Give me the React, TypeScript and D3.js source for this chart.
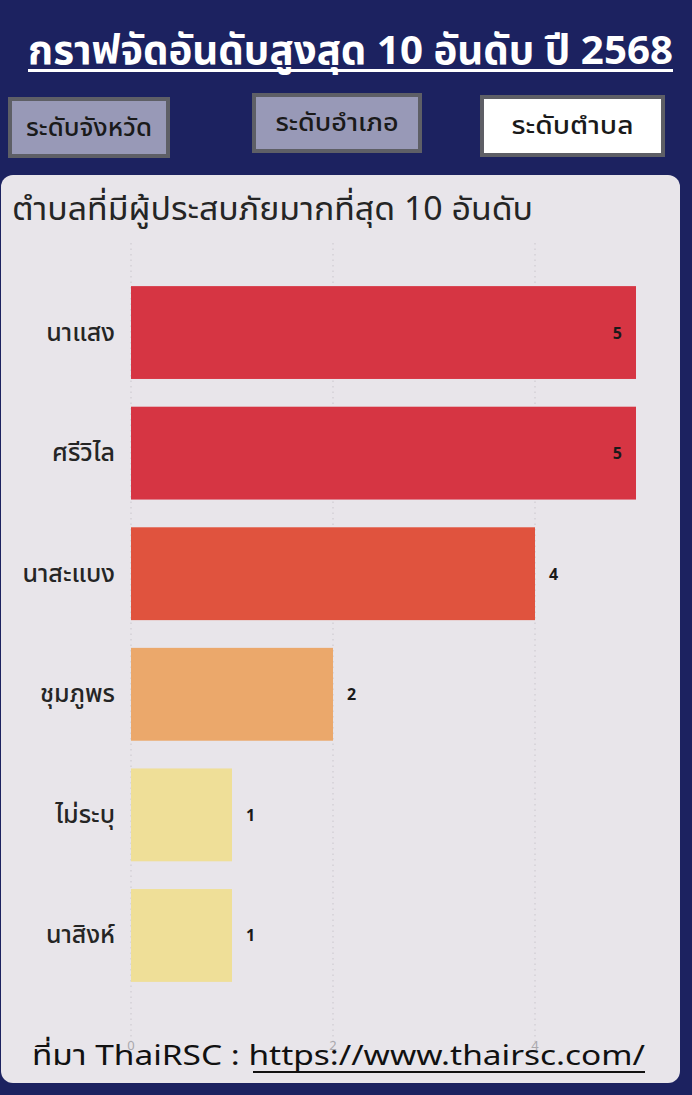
import React from "react";
import * as d3 from "d3";

const categories = ["นาแสง", "ศรีวิไล", "นาสะแบง", "ชุมภูพร", "ไม่ระบุ", "นาสิงห์"];
const values = [5, 5, 4, 2, 1, 1];
const colors = ["#d63543", "#d63543", "#e0533e", "#eba86b", "#efdf98", "#efdf98"];
const xTicks = [0, 2, 4];
const buttons = ["ระดับจังหวัด", "ระดับอำเภอ", "ระดับตำบล"];

const W = 692;
const H = 1095;
const FONT = "'Noto Sans Thai', 'Noto Sans', Tahoma, sans-serif";

export default function App() {
  const x = d3.scaleLinear().domain([0, 5]).range([131, 636]);
  const y = d3.scaleBand<string>().domain(categories).range([262, 1006]).paddingInner(0.23).paddingOuter(0.2);

  const btns = [
    { x: 8, y: 97, w: 162, h: 61, fill: "#9899b7", tw: 126 },
    { x: 252, y: 93, w: 170, h: 60, fill: "#9899b7", tw: 123 },
    { x: 480, y: 95, w: 185, h: 62, fill: "#ffffff", tw: 122 },
  ];

  return (
    <svg width={W} height={H} style={{ position: "absolute", left: 0, top: 0, display: "block" }} fontFamily={FONT}>
      <rect x={0} y={0} width={W} height={H} fill="#1c2260" />
      {/* title */}
      <text x={28} y={64} fill="#ffffff" fontSize={40} fontWeight="bold" textLength={645} lengthAdjust="spacingAndGlyphs">
        กราฟจัดอันดับสูงสุด 10 อันดับ ปี 2568
      </text>
      <rect x={28} y={69} width={645} height={3} fill="#ffffff" />
      {/* buttons */}
      {btns.map((b, i) => (
        <g key={i}>
          <rect x={b.x + 2} y={b.y + 2} width={b.w - 4} height={b.h - 4} fill={b.fill} stroke="#5e5f66" strokeWidth={4} />
          <text
            x={b.x + (b.w - b.tw) / 2}
            y={b.y + b.h / 2 + 8}
            fontSize={24}
            fontWeight={500}
            fill="#1a1a1a"
            textLength={b.tw}
            lengthAdjust="spacingAndGlyphs"
          >
            {buttons[i]}
          </text>
        </g>
      ))}
      {/* panel */}
      <rect x={1} y={175} width={679} height={908} rx={12} fill="#e8e5ea" />
      <text x={12} y={220} fontSize={32} fill="#252525" textLength={521} lengthAdjust="spacingAndGlyphs">
        ตำบลที่มีผู้ประสบภัยมากที่สุด 10 อันดับ
      </text>
      {/* gridlines */}
      {xTicks.map((t) => (
        <g key={t}>
          <line x1={x(t)} x2={x(t)} y1={243} y2={1042} stroke="#c9c6cc" strokeWidth={1} strokeDasharray="1.5,4" />
          <text x={x(t)} y={1050} textAnchor="middle" fontSize={13} fill="#aaa8ad">
            {t}
          </text>
        </g>
      ))}
      {/* bars */}
      {categories.map((c, i) => {
        const by = y(c)!;
        const bh = y.bandwidth();
        const inside = values[i] === 5;
        return (
          <g key={c}>
            <rect x={x(0)} y={by} width={x(values[i]) - x(0)} height={bh} fill={colors[i]} />
            <text x={115} y={by + bh / 2 + 8} textAnchor="end" fontSize={25} fontWeight={500} fill="#252525">
              {c}
            </text>
            <text
              x={inside ? x(values[i]) - 14 : x(values[i]) + 14}
              y={by + bh / 2 + 6}
              textAnchor={inside ? "end" : "start"}
              fontSize={16}
              fontWeight="bold"
              fill="#1a1a1a"
            >
              {values[i]}
            </text>
          </g>
        );
      })}
      {/* source */}
      <text x={32} y={1065} fontSize={28} fill="#111111" textLength={613} lengthAdjust="spacingAndGlyphs">
        ที่มา ThaiRSC : https://www.thairsc.com/
      </text>
      <rect x={253} y={1071} width={392} height={2} fill="#111111" />
    </svg>
  );
}
